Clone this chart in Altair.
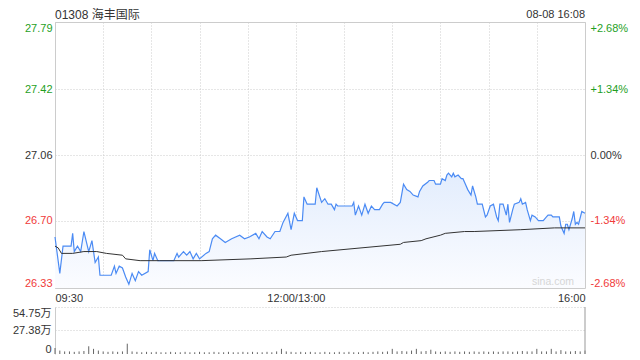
import altair as alt
import pandas as pd

TITLE = "01308 海丰国际"
STAMP = "08-08 16:08"
WATERMARK = "sina.com"

# minutes since 09:30 (lunch break removed), price
price_points = [
    (0, 26.61), (3, 26.41), (5, 26.56), (10, 26.56), (11, 26.63), (12, 26.53), (14, 26.56),
    (16, 26.53), (18, 26.64), (21, 26.53), (23, 26.59), (25, 26.47), (27, 26.50), (28, 26.40),
    (35, 26.40), (37, 26.45), (38, 26.41), (40, 26.45), (42, 26.44), (44, 26.39), (46, 26.35),
    (48, 26.41), (50, 26.37), (52, 26.42), (54, 26.40), (58, 26.42), (59, 26.54), (61, 26.48),
    (62, 26.52), (64, 26.48), (74, 26.48), (76, 26.52), (77, 26.50), (80, 26.53), (82, 26.51),
    (84, 26.53), (86, 26.49), (88, 26.52), (90, 26.49), (94, 26.52), (96, 26.53), (98, 26.60),
    (100, 26.62), (103, 26.60), (106, 26.58), (110, 26.60), (115, 26.62), (118, 26.60),
    (121, 26.61), (125, 26.63), (127, 26.60), (129, 26.64), (132, 26.61), (134, 26.60),
    (137, 26.64), (140, 26.64), (142, 26.69), (145, 26.74), (147, 26.65), (149, 26.74),
    (151, 26.70), (154, 26.70), (155, 26.83), (157, 26.79), (162, 26.79), (163, 26.88),
    (166, 26.80), (168, 26.82), (170, 26.79), (172, 26.79), (174, 26.76), (175, 26.79),
    (176, 26.78), (185, 26.78), (186, 26.80), (187, 26.73), (189, 26.78), (191, 26.73),
    (193, 26.79), (195, 26.74), (197, 26.78), (199, 26.76), (202, 26.76), (204, 26.79),
    (205, 26.80), (209, 26.80), (213, 26.78), (215, 26.80), (217, 26.90), (219, 26.87),
    (221, 26.86), (223, 26.84), (226, 26.83), (227, 26.86), (229, 26.89), (232, 26.91),
    (233, 26.92), (236, 26.92), (237, 26.90), (240, 26.90), (241, 26.93), (243, 26.92),
    (244, 26.95), (245, 26.96), (247, 26.94), (248, 26.96), (249, 26.94), (251, 26.95),
    (253, 26.93), (254, 26.93), (255, 26.91), (257, 26.87), (259, 26.84), (260, 26.89),
    (262, 26.83), (263, 26.79), (266, 26.79), (268, 26.72), (269, 26.73), (271, 26.78),
    (273, 26.79), (275, 26.72), (276, 26.70), (277, 26.79), (279, 26.79), (281, 26.73),
    (282, 26.79), (283, 26.69), (285, 26.76), (286, 26.79), (289, 26.80), (290, 26.82),
    (291, 26.79), (293, 26.80), (294, 26.76), (296, 26.70), (297, 26.73), (299, 26.72),
    (301, 26.70), (304, 26.70), (306, 26.72), (307, 26.73), (309, 26.73), (310, 26.72),
    (314, 26.72), (315, 26.67), (317, 26.63), (318, 26.68), (319, 26.68), (320, 26.65),
    (322, 26.71), (323, 26.75), (324, 26.68), (325, 26.69), (326, 26.68), (328, 26.75),
    (330, 26.74),
]

avg_points = [
    (0, 26.56), (2, 26.55), (4, 26.52), (11, 26.52), (18, 26.53), (26, 26.53), (32, 26.52),
    (42, 26.51), (44, 26.49), (53, 26.48), (65, 26.48), (91, 26.48), (122, 26.49),
    (144, 26.50), (147, 26.51), (166, 26.53), (215, 26.57), (217, 26.58), (228, 26.59),
    (231, 26.60), (240, 26.62), (243, 26.63), (255, 26.64), (261, 26.64), (290, 26.65),
    (311, 26.66), (330, 26.66),
]

# volume (万股) per 3-minute slot
vol_t = list(range(0, 331, 3))
vol_v = [
    7, 4, 3, 3, 2.5, 3, 3.5, 9, 6, 4, 3, 2.5, 3, 2.5, 3, 12, 3, 2.5, 2, 2.5,
    2, 2.5, 2, 2, 2.5, 2, 2, 2.5, 2, 2, 2.5, 2, 2, 2.5, 2, 2, 2.5, 2, 2, 2.5,
    2, 2.5, 2, 2, 2.5, 2, 3, 6, 3, 2.5, 2, 2.5, 2, 2.5, 2, 2, 2.5, 2, 2, 2.5,
    2, 2.5, 2, 2, 2.5, 2, 2.5, 3, 2.5, 3, 6, 3, 3.5, 3, 4, 6, 3, 3.5, 5, 3,
    2.5, 3, 2.5, 3, 2.5, 3, 2.5, 3, 2.5, 3, 2.5, 3, 2.5, 3, 3, 2.5, 3, 3.5, 3, 3,
    6, 3, 3, 6, 3, 4.5, 3, 3, 3.5, 3, 4,
]

price_ticks = [26.33, 26.70, 27.06, 27.42, 27.79]
vol_ticks = [0, 27.38, 54.75]
PREV_CLOSE = 27.06

W = 530
H1 = 266
H2 = 47
GREEN = "#1f9f1f"
RED = "#f03a3a"
DARK = "#333333"
GRID = "#cccccc"
BLUE = "#4b8bf4"
FONT = "Liberation Sans, Noto Sans CJK SC, sans-serif"

price_df = pd.DataFrame(price_points, columns=["t", "p"])
avg_df = pd.DataFrame(avg_points, columns=["t", "p"])
vol_df = pd.DataFrame({"t": vol_t, "v": vol_v})

xscale = alt.Scale(domain=[0, 330], nice=False, zero=False)
yscale = alt.Scale(domain=[price_ticks[0], price_ticks[-1]], nice=False, zero=False)

label_color = {
    "condition": [
        {"test": f"datum.value > {PREV_CLOSE + 0.02}", "value": GREEN},
        {"test": f"datum.value < {PREV_CLOSE - 0.02}", "value": RED},
    ],
    "value": DARK,
}

x_axis = alt.Axis(
    values=list(range(0, 331, 30)),
    labelExpr="datum.value == 0 ? '09:30' : datum.value == 150 ? '12:00/13:00' : datum.value == 330 ? '16:00' : ''",
    labelFlush=True, labelOverlap=False, grid=True, gridColor=GRID, gridDash=[1, 2],
    ticks=False, domain=False, labelPadding=4, labelFontSize=11, labelColor=DARK, title=None,
)

left_axis = alt.Axis(
    values=price_ticks, format=".2f", labelFlush=True, grid=True, gridColor=GRID,
    gridDash=[1, 2], ticks=False, domain=False, labelPadding=3, labelFontSize=11,
    labelColor=label_color, minExtent=46, maxExtent=46, title=None,
)

right_axis = alt.Axis(
    orient="right", values=price_ticks,
    labelExpr="datum.value > 27.7 ? '+2.68%' : datum.value > 27.3 ? '+1.34%' : datum.value > 27.0 ? '0.00%' : datum.value > 26.6 ? '-1.34%' : '-2.68%'",
    labelFlush=True, grid=False, ticks=False, domain=False, labelPadding=5, labelFontSize=11,
    labelColor=label_color, title=None,
)

area = alt.Chart(price_df).mark_area(
    fill=alt.Gradient(
        gradient="linear",
        stops=[alt.GradientStop(color="#e3edfd", offset=0), alt.GradientStop(color="#fbfcff", offset=1)],
        x1=1, x2=1, y1=0, y2=1,
    )
).encode(
    x=alt.X("t:Q", scale=xscale, axis=x_axis),
    y=alt.Y("p:Q", scale=yscale, axis=left_axis),
    y2=alt.datum(price_ticks[0]),
)

pline = alt.Chart(price_df).mark_line(color=BLUE, strokeWidth=1.2).encode(
    x=alt.X("t:Q", scale=xscale), y=alt.Y("p:Q", scale=yscale)
)
aline = alt.Chart(avg_df).mark_line(color=DARK, strokeWidth=1).encode(
    x=alt.X("t:Q", scale=xscale), y=alt.Y("p:Q", scale=yscale)
)

right = alt.Chart(avg_df).mark_line(opacity=0).encode(
    x=alt.X("t:Q", scale=xscale), y=alt.Y("p:Q", scale=yscale, axis=right_axis)
)

title_txt = alt.Chart(pd.DataFrame({"label": [TITLE]})).mark_text(
    align="left", baseline="middle", fontSize=12, color=DARK
).encode(x=alt.value(0), y=alt.value(-7), text="label:N")

stamp_txt = alt.Chart(pd.DataFrame({"label": [STAMP]})).mark_text(
    align="right", baseline="middle", fontSize=11, color=DARK
).encode(x=alt.value(W), y=alt.value(-7), text="label:N")

wm_txt = alt.Chart(pd.DataFrame({"label": [WATERMARK]})).mark_text(
    align="center", baseline="middle", fontSize=10.5, color="#d6d6d6"
).encode(x=alt.value(W - 32), y=alt.value(H1 - 6), text="label:N")

price_chart = alt.layer(
    alt.layer(area, pline, aline), right
).resolve_scale(y="independent")
price_chart = alt.layer(price_chart, title_txt, stamp_txt, wm_txt).properties(width=W, height=H1)

vol_axis = alt.Axis(
    values=vol_ticks,
    labelExpr="datum.value == 0 ? '0' : format(datum.value, '.2f') + '万'",
    labelFlush=True, grid=True, gridColor=GRID, gridDash=[1, 2],
    gridOpacity={"condition": {"test": "datum.value == 0", "value": 0}, "value": 1},
    domain=True, domainColor=GRID, ticks=False, labelPadding=4, labelFontSize=11,
    labelColor=DARK, minExtent=46, maxExtent=46, title=None,
)

bars = alt.Chart(vol_df).mark_rule(color="#666666", strokeWidth=1).encode(
    x=alt.X("t:Q", scale=xscale, axis=None),
    y=alt.Y("v:Q", scale=alt.Scale(domain=[0, vol_ticks[-1]], nice=False), axis=vol_axis),
    y2=alt.datum(0),
)
vborder = alt.Chart(pd.DataFrame({"a": [0]})).mark_rule(color="#999999", strokeWidth=1).encode(
    x=alt.value(W), y=alt.value(0), y2=alt.value(H2)
)
vol_chart = alt.layer(bars, vborder).properties(
    width=W, height=H2, view=alt.ViewBackground(strokeOpacity=0)
)

chart = alt.vconcat(price_chart, vol_chart, spacing=2).properties(
    padding={"left": 0, "top": 0, "right": 0, "bottom": 0}
).configure(font=FONT).configure_view(stroke=GRID)

chart.save("out.html", embed_options={"renderer": "svg", "actions": False})
